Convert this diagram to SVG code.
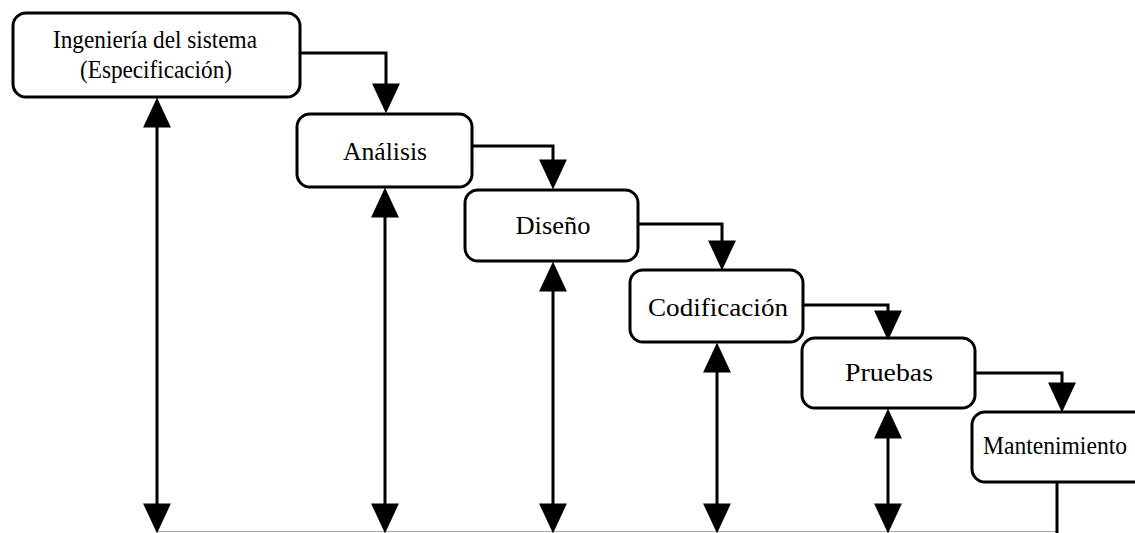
<svg xmlns="http://www.w3.org/2000/svg" width="1135" height="533" viewBox="0 0 1135 533">
  <style>
    .box { fill: #ffffff; stroke: #000000; stroke-width: 3; }
    .lbl { font-family: "Liberation Serif", "DejaVu Serif", serif; font-size: 26px; fill: #000000; text-anchor: middle; }
    .con { fill: none; stroke: #000000; stroke-width: 3; }
  </style>
  <defs>
    <marker id="ah" markerUnits="userSpaceOnUse" markerWidth="30" markerHeight="28" viewBox="0 0 28 26" refX="22" refY="13" orient="auto-start-reverse">
      <path d="M0,0 L28,13 L0,26 Z" fill="#000000"/>
    </marker>
  </defs>
  <rect width="1135" height="533" fill="#ffffff"/>

  <g id="connectors">
    <line x1="157" y1="531.5" x2="1057" y2="531.5" stroke="#aaaaaa" stroke-width="1"/>
    <path class="con" d="M300,53 H386 V107" marker-end="url(#ah)"/>
    <path class="con" d="M472,146 H553 V183" marker-end="url(#ah)"/>
    <path class="con" d="M638,224 H722 V264" marker-end="url(#ah)"/>
    <path class="con" d="M803,305 H888 V334" marker-end="url(#ah)"/>
    <path class="con" d="M975,373 H1062 V406" marker-end="url(#ah)"/>
    <line class="con" x1="157" y1="104" x2="157" y2="527" marker-start="url(#ah)" marker-end="url(#ah)"/>
    <line class="con" x1="385" y1="194" x2="385" y2="527" marker-start="url(#ah)" marker-end="url(#ah)"/>
    <line class="con" x1="553" y1="268" x2="553" y2="527" marker-start="url(#ah)" marker-end="url(#ah)"/>
    <line class="con" x1="717" y1="349" x2="717" y2="527" marker-start="url(#ah)" marker-end="url(#ah)"/>
    <line class="con" x1="888" y1="415" x2="888" y2="527" marker-start="url(#ah)" marker-end="url(#ah)"/>
    <line class="con" x1="1057" y1="482" x2="1057" y2="533"/>
  </g>

  <g id="ingenieria">
    <rect class="box" x="13" y="13" width="287" height="84" rx="13" ry="13"/>
    <text class="lbl" x="155" y="48" textLength="204" lengthAdjust="spacingAndGlyphs">Ingeniería del sistema</text>
    <text class="lbl" x="156" y="78" textLength="152" lengthAdjust="spacingAndGlyphs">(Especificación)</text>
  </g>
  <g id="analisis">
    <rect class="box" x="297" y="114" width="175" height="73" rx="13" ry="13"/>
    <text class="lbl" x="385" y="160" textLength="84" lengthAdjust="spacingAndGlyphs">Análisis</text>
  </g>
  <g id="diseno">
    <rect class="box" x="465" y="190" width="173" height="71" rx="13" ry="13"/>
    <text class="lbl" x="553" y="234" textLength="75" lengthAdjust="spacingAndGlyphs">Diseño</text>
  </g>
  <g id="codificacion">
    <rect class="box" x="630" y="270" width="173" height="72" rx="13" ry="13"/>
    <text class="lbl" x="718" y="316" textLength="140" lengthAdjust="spacingAndGlyphs">Codificación</text>
  </g>
  <g id="pruebas">
    <rect class="box" x="802" y="338" width="173" height="70" rx="13" ry="13"/>
    <text class="lbl" x="889" y="381" textLength="88" lengthAdjust="spacingAndGlyphs">Pruebas</text>
  </g>
  <g id="mantenimiento">
    <rect class="box" x="972" y="412" width="180" height="70" rx="13" ry="13"/>
    <text class="lbl" x="1055" y="454" textLength="144" lengthAdjust="spacingAndGlyphs">Mantenimiento</text>
  </g>
</svg>
